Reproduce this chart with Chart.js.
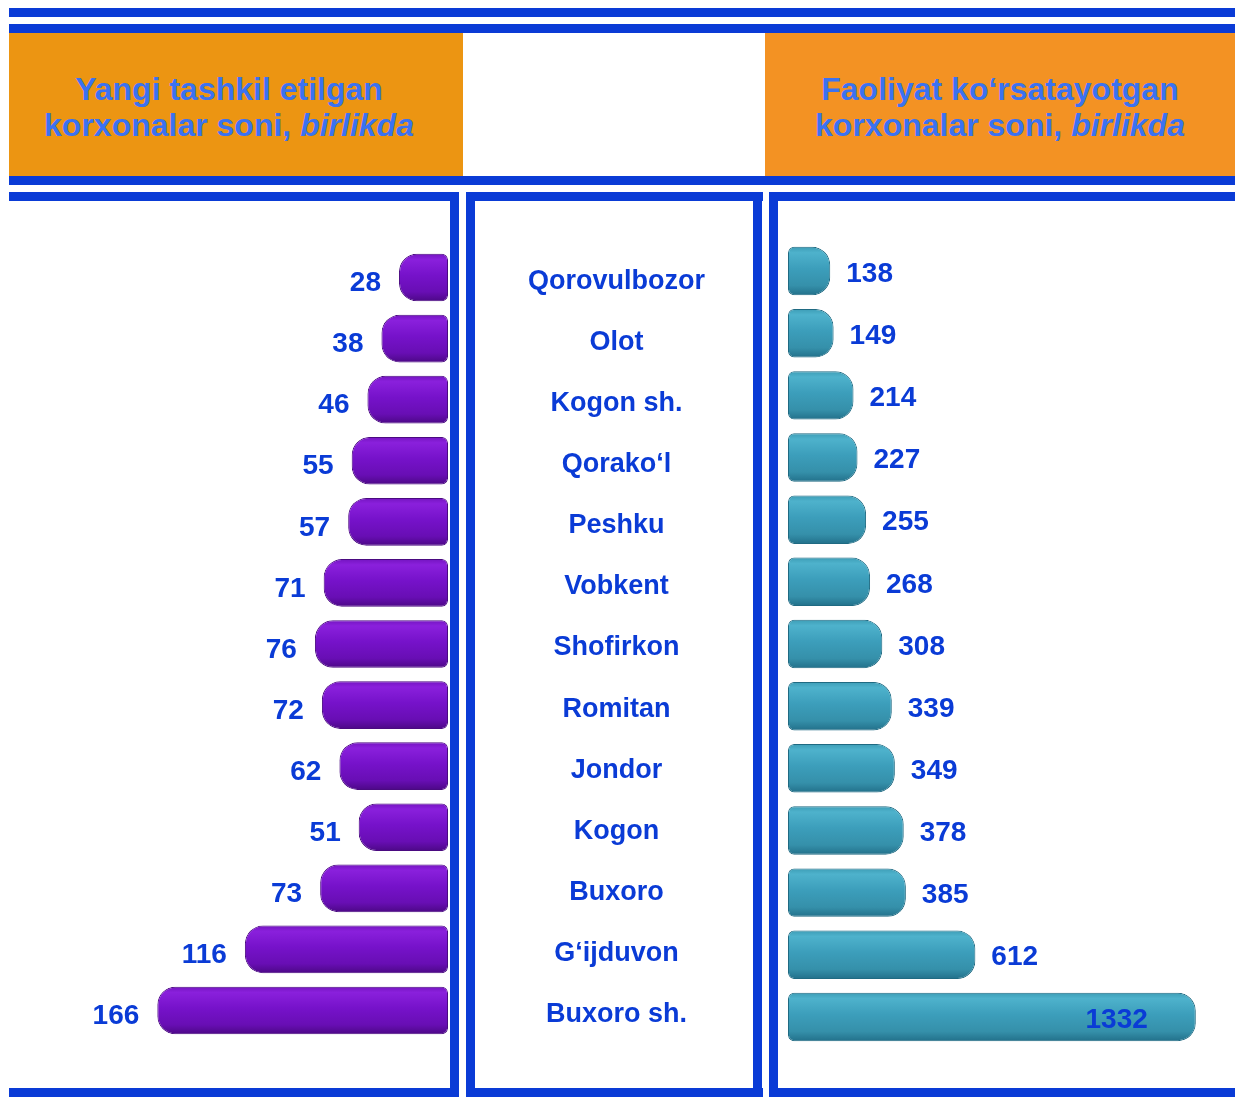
<!DOCTYPE html>
<html>
<head>
<meta charset="utf-8">
<script src="https://cdn.jsdelivr.net/npm/chart.js@4.4.0/dist/chart.umd.min.js"></script>
<style>
  body { margin: 0; background: #fff; }
  #page { position: relative; width: 1235px; height: 1101px; overflow: hidden; background: #fff;
          font-family: "Liberation Sans", Arial, sans-serif; }
  .ln { position: absolute; background: #0a3bd6; }
  .head { position: absolute; top: 33px; height: 143px; display: flex; align-items: center; justify-content: center;
          text-align: center; color: #3b72f1; font-weight: bold; font-size: 32px; line-height: 36px;
          padding-top: 4px; box-sizing: border-box; }
  canvas { position: absolute; }
</style>
</head>
<body>
<div id="page">
  <div class="head" style="left:9px; width:454px; background:#ec9512; padding-right:14px;">
    <div>Yangi tashkil etilgan<br>korxonalar soni, <i>birlikda</i></div>
  </div>
  <div class="head" style="left:765px; width:470px; background:#f39223;">
    <div>Faoliyat ko‘rsatayotgan<br>korxonalar soni, <i>birlikda</i></div>
  </div>

  <canvas id="left" width="753" height="886" style="left:9px; top:201px;"></canvas>
  <canvas id="right" width="457" height="886" style="left:778px; top:201px;"></canvas>

  <!-- frame lines -->
  <div class="ln" style="left:9px; top:8px; width:1226px; height:9px;"></div>
  <div class="ln" style="left:9px; top:24px; width:1226px; height:9px;"></div>
  <div class="ln" style="left:9px; top:176px; width:1226px; height:9px;"></div>

  <div class="ln" style="left:9px; top:192px; width:450px; height:9px;"></div>
  <div class="ln" style="left:450px; top:192px; width:9px; height:905px;"></div>
  <div class="ln" style="left:9px; top:1088px; width:450px; height:9px;"></div>

  <div class="ln" style="left:466px; top:192px; width:297px; height:9px;"></div>
  <div class="ln" style="left:466px; top:192px; width:9px; height:905px;"></div>
  <div class="ln" style="left:753px; top:192px; width:9px; height:905px;"></div>
  <div class="ln" style="left:466px; top:1088px; width:297px; height:9px;"></div>

  <div class="ln" style="left:769px; top:192px; width:466px; height:9px;"></div>
  <div class="ln" style="left:769px; top:192px; width:9px; height:905px;"></div>
  <div class="ln" style="left:769px; top:1088px; width:466px; height:9px;"></div>
</div>

<script>
// tumanlar
const districts = ['Qorovulbozor', 'Olot', 'Kogon sh.', 'Qorako‘l', 'Peshku', 'Vobkent', 'Shofirkon',
                   'Romitan', 'Jondor', 'Kogon', 'Buxoro', 'G‘ijduvon', 'Buxoro sh.'];
// yangi tashkil etilgan korxonalar
const newFirms = [28, 38, 46, 55, 57, 71, 76, 72, 62, 51, 73, 116, 166];
// faoliyat ko'rsatayotgan korxonalar
const activeFirms = [138, 149, 214, 227, 255, 268, 308, 339, 349, 378, 385, 612, 1332];

const BLUE = '#0a3bd6';
const FONT = '"Liberation Sans", Arial, sans-serif';
const BAR_PCT = 0.78;

// cylinder-like vertical shading for each bar
function shade(stops, flat) {
    return function (ctx) {
        const chart = ctx.chart;
        const y = chart.scales.y;
        if (!chart.chartArea || !y) return flat;
        const c = y.getPixelForValue(ctx.dataIndex);
        const h = (chart.chartArea.height / districts.length) * BAR_PCT / 2;
        const g = chart.ctx.createLinearGradient(0, c - h, 0, c + h);
        stops.forEach(s => g.addColorStop(s[0], s[1]));
        return g;
    };
}

const purple = shade([[0, '#7414c0'], [0.12, '#8a20dc'], [0.45, '#7612ca'], [0.8, '#680eb4'], [1, '#4c0886']], '#7612ca');
const teal = shade([[0, '#3d9db6'], [0.12, '#4eb2cc'], [0.45, '#3c9ebb'], [0.8, '#3590aa'], [1, '#22708a']], '#3c9ebb');

// value labels next to bar ends
const valueLabels = {
    id: 'valueLabels',
    afterDatasetsDraw(chart, args, opts) {
        const ctx = chart.ctx;
        const data = chart.data.datasets[0].data;
        ctx.save();
        ctx.font = 'bold 28px ' + FONT;
        ctx.fillStyle = BLUE;
        ctx.textBaseline = 'middle';
        chart.getDatasetMeta(0).data.forEach((bar, i) => {
            const txt = String(data[i]);
            const w = ctx.measureText(txt).width;
            if (opts.side === 'left') {
                ctx.textAlign = 'right';
                ctx.fillText(txt, bar.x - 18, bar.y + 6);
            } else if (bar.x + 14 + w > chart.chartArea.right) {
                ctx.textAlign = 'right';
                ctx.fillText(txt, bar.x - 48, bar.y + 3);
            } else {
                ctx.textAlign = 'left';
                ctx.fillText(txt, bar.x + 16, bar.y + 3);
            }
        });
        ctx.restore();
    }
};

// left: new firms, bars grow to the left, district names in the middle column
new Chart(document.getElementById('left'), {
    type: 'bar',
    data: {
        labels: districts,
        datasets: [{
            data: newFirms,
            backgroundColor: purple,
            borderColor: '#4a0a80',
            borderWidth: 1,
            borderSkipped: false,
            borderRadius: {topLeft: 18, bottomLeft: 18, topRight: 6, bottomRight: 6},
            barPercentage: BAR_PCT,
            categoryPercentage: 1
        }]
    },
    options: {
        responsive: false,
        animation: false,
        devicePixelRatio: 1,
        indexAxis: 'y',
        layout: {padding: {top: 46, bottom: 46, left: 10, right: 0}},
        plugins: {legend: {display: false}, tooltip: {enabled: false}, valueLabels: {side: 'left'}},
        scales: {
            x: {reverse: true, min: 0, max: 245, display: false},
            y: {
                position: 'right',
                grid: {display: false, drawTicks: false},
                border: {display: false},
                afterFit(scale) {
                    scale.width = 314;
                    scale.paddingTop = 0;
                    scale.paddingBottom = 0;
                },
                ticks: {
                    crossAlign: 'center',
                    padding: 80,
                    labelOffset: 4,
                    color: BLUE,
                    font: {family: FONT, size: 27, weight: 'bold'}
                }
            }
        }
    },
    plugins: [valueLabels]
});

// right: active firms
new Chart(document.getElementById('right'), {
    type: 'bar',
    data: {
        labels: districts,
        datasets: [{
            data: activeFirms,
            backgroundColor: teal,
            borderColor: '#1f6a82',
            borderWidth: 1,
            borderSkipped: false,
            borderRadius: {topRight: 18, bottomRight: 18, topLeft: 6, bottomLeft: 6},
            barPercentage: BAR_PCT,
            categoryPercentage: 1
        }]
    },
    options: {
        responsive: false,
        animation: false,
        devicePixelRatio: 1,
        indexAxis: 'y',
        layout: {padding: {top: 39, bottom: 39, left: 10, right: 0}},
        plugins: {legend: {display: false}, tooltip: {enabled: false}, valueLabels: {side: 'right'}},
        scales: {
            x: {min: 0, max: 1460, display: false},
            y: {display: false}
        }
    },
    plugins: [valueLabels]
});
</script>
</body>
</html>
